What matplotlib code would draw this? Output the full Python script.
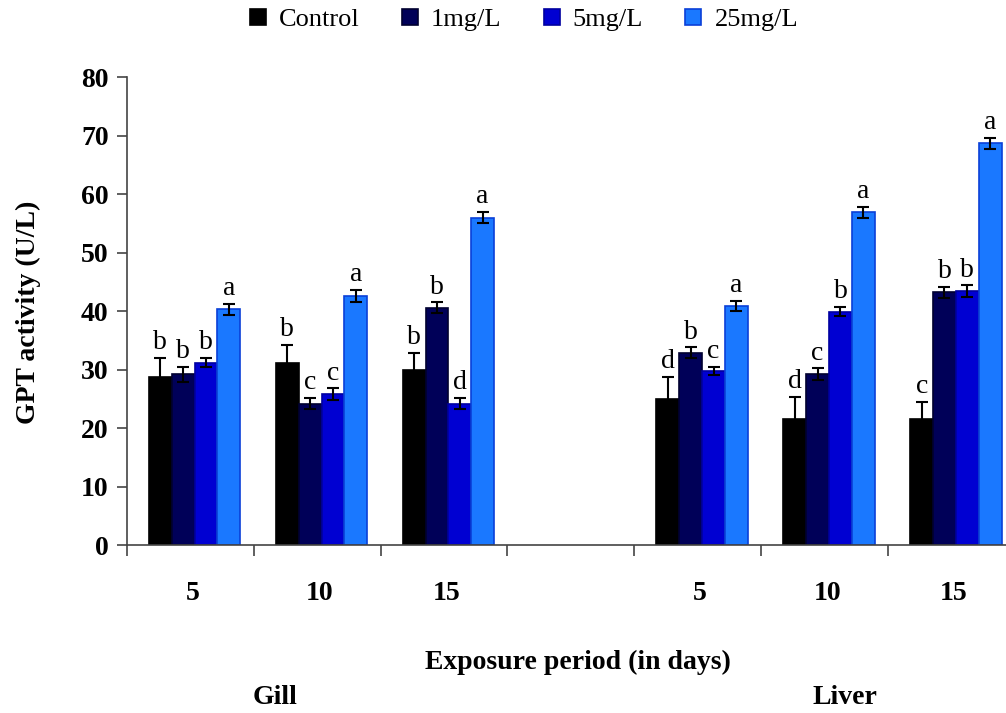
import matplotlib.pyplot as plt
import numpy as np

plt.rcParams['font.family'] = ['Liberation Serif', 'DejaVu Serif']

# x slots: Gill 5/10/15, empty gap, Liver 5/10/15
DAYS = ['5', '10', '15', '', '5', '10', '15']
SERIES = ['Control', '1mg/L', '5mg/L', '25mg/L']
COLORS = ['#000000', '#000058', '#0000d2', '#1a78ff']
EDGES = ['#000000', '#000030', '#0000a0', '#0a40d8']

# GPT activity (U/L), np.nan for the empty slot
control = [28.8, 31.2, 29.9, np.nan, 24.9, 21.5, 21.5]
mg1 = [29.2, 24.2, 40.6, np.nan, 32.9, 29.2, 43.2]
mg5 = [31.2, 25.8, 24.2, np.nan, 29.8, 39.9, 43.4]
mg25 = [40.3, 42.6, 56.0, np.nan, 40.9, 56.9, 68.7]

err_control = [3.2, 3.0, 2.9, np.nan, 3.8, 3.8, 3.0]
err_mg1 = [1.3, 1.0, 0.9, np.nan, 0.9, 1.0, 1.0]
err_mg5 = [0.8, 1.0, 1.0, np.nan, 0.7, 0.8, 1.0]
err_mg25 = [1.0, 1.0, 1.0, np.nan, 0.9, 0.9, 0.9]

let_control = ['b', 'b', 'b', '', 'd', 'd', 'c']
let_mg1 = ['b', 'c', 'b', '', 'b', 'c', 'b']
let_mg5 = ['b', 'c', 'd', '', 'c', 'b', 'b']
let_mg25 = ['a', 'a', 'a', '', 'a', 'a', 'a']

BAR_W = 0.18
SHIFT = 0.035  # bars sit a little right of the tick label


def main():
    values = [control, mg1, mg5, mg25]
    errors = [err_control, err_mg1, err_mg5, err_mg25]
    letters = [let_control, let_mg1, let_mg5, let_mg25]

    fig = plt.figure(figsize=(10.06, 7.13), dpi=100)
    ax = fig.add_axes([0.126, 0.2356, 0.874, 0.656])

    x = np.arange(len(DAYS))
    for i, name in enumerate(SERIES):
        xs = x + SHIFT + (i - 1.5) * BAR_W
        ax.bar(xs, values[i], width=BAR_W, color=COLORS[i],
               edgecolor=EDGES[i], linewidth=1.2, label=name, zorder=2)
        ax.errorbar(xs, values[i], yerr=errors[i], fmt='none',
                    ecolor='black', elinewidth=1.5, capsize=4,
                    capthick=1.5, zorder=3)
        for xi, v, e, t in zip(xs, values[i], errors[i], letters[i]):
            if not t:
                continue
            ax.annotate(t, (xi, v + e), xytext=(0, 2),
                        textcoords='offset points', ha='center',
                        va='bottom', fontsize=20, color='black')

    ax.set_xlim(-0.5, 6.43)
    ax.set_ylim(0, 80)
    ax.set_yticks(np.arange(0, 81, 10))
    ax.set_xticks(x + 0.02)
    ax.set_xticklabels(DAYS)
    ax.set_xticks(np.arange(-0.5, 6.5, 1.0), minor=True)

    for s in ['top', 'right']:
        ax.spines[s].set_visible(False)
    for s in ['left', 'bottom']:
        ax.spines[s].set_color('#444444')
        ax.spines[s].set_linewidth(1.2)

    ax.tick_params(axis='x', which='major', length=0, pad=26,
                   labelsize=20)
    ax.tick_params(axis='x', which='minor', length=8, width=1.2,
                   color='#444444', direction='out')
    ax.tick_params(axis='y', length=7, width=1.2, color='#444444',
                   direction='out', labelsize=20, pad=6)
    for lab in ax.get_xticklabels() + ax.get_yticklabels():
        lab.set_fontweight('bold')

    ax.set_ylabel('GPT activity (U/L)', fontsize=20, fontweight='bold')
    ax.yaxis.set_label_coords(-0.097, 0.498)

    fig.text(578 / 1006, 1 - 662 / 713, 'Exposure period (in days)',
             ha='center', va='center', fontsize=20, fontweight='bold')
    fig.text(275 / 1006, 1 - 697 / 713, 'Gill', ha='center', va='center',
             fontsize=20, fontweight='bold')
    fig.text(845 / 1006, 1 - 697 / 713, 'Liver', ha='center', va='center',
             fontsize=20, fontweight='bold')

    fig.legend(loc='center', bbox_to_anchor=(524 / 1006, 1 - 20 / 713),
               ncol=4, frameon=False, fontsize=19, handlelength=0.6,
               handleheight=0.6, handletextpad=0.5, columnspacing=1.6)

    fig.savefig('out.png', dpi=100)


if __name__ == '__main__':
    main()
